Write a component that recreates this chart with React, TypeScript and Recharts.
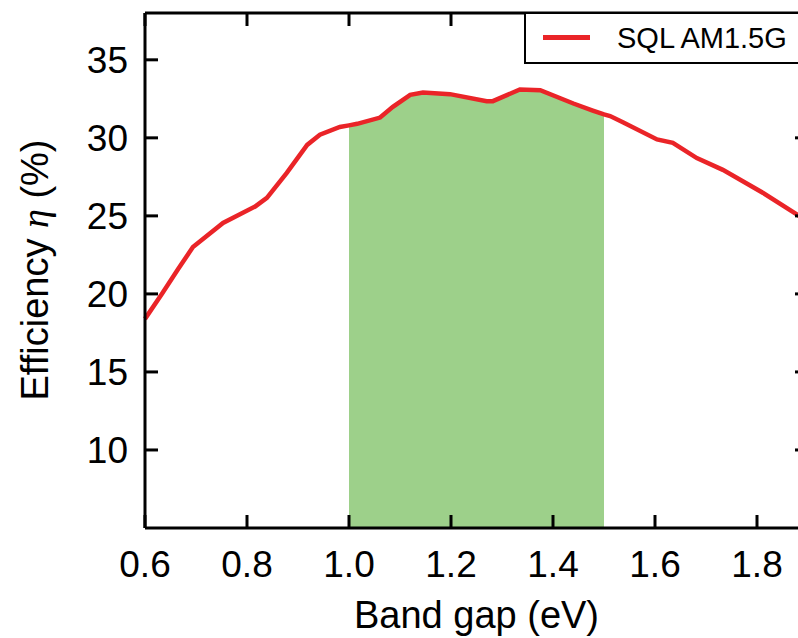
import React from "react";
import {
  ComposedChart,
  Line,
  Area,
  XAxis,
  YAxis,
} from "recharts";

const bandGap = [
  0.6, 0.633, 0.665, 0.694, 0.753, 0.816, 0.839, 0.878, 0.918, 0.943, 0.982, 1.0,
  1.016, 1.061, 1.086, 1.12, 1.145, 1.198, 1.27, 1.282, 1.335, 1.375, 1.44, 1.478,
  1.5, 1.512, 1.537, 1.604, 1.635, 1.682, 1.733, 1.773, 1.812, 1.878, 1.9,
];
const efficiency = [
  18.4, 20.0, 21.6, 23.0, 24.55, 25.6, 26.15, 27.76, 29.55, 30.2, 30.7, 30.8,
  30.9, 31.3, 31.99, 32.76, 32.9, 32.8, 32.35, 32.35, 33.1, 33.05, 32.2, 31.75,
  31.5, 31.4, 31.0, 29.9, 29.68, 28.7, 27.95, 27.2, 26.47, 25.1, 24.6,
];
const optimalRange = [1.0, 1.5];
const xTicks = [0.6, 0.8, 1.0, 1.2, 1.4, 1.6, 1.8];
const yTicks = [10, 15, 20, 25, 30, 35];
const seriesName = "SQL AM1.5G";

const data = bandGap.map((eg, i) => ({
  eg,
  eff: efficiency[i],
  band: eg >= optimalRange[0] && eg <= optimalRange[1] ? efficiency[i] : null,
}));

const FONT = '"Liberation Sans", Arial, sans-serif';
const TICK = 13;
const X_GAP = 22;
const Y_GAP = 17;

// inward tick marks drawn next to the labels
const BottomTick = (p: any) => (
  <g>
    <line x1={p.x} x2={p.x} y1={p.y - X_GAP} y2={p.y - X_GAP - TICK} stroke="#000" strokeWidth={3} />
    <text x={p.x} y={p.y} dy="0.72em" textAnchor="middle" fontSize={37} fontFamily={FONT} fill="#000">
      {Number(p.payload.value).toFixed(1)}
    </text>
  </g>
);

const LeftTick = (p: any) => (
  <g>
    <line x1={p.x + Y_GAP} x2={p.x + Y_GAP + TICK} y1={p.y} y2={p.y} stroke="#000" strokeWidth={3} />
    <text x={p.x} y={p.y} dy="0.36em" textAnchor="end" fontSize={37} fontFamily={FONT} fill="#000">
      {p.payload.value}
    </text>
  </g>
);

const TopTick = (p: any) => (
  <line x1={p.x} x2={p.x} y1={p.y} y2={p.y + TICK} stroke="#000" strokeWidth={3} />
);

const RightTick = (p: any) => (
  <line x1={p.x} x2={p.x - TICK} y1={p.y} y2={p.y} stroke="#000" strokeWidth={3} />
);

const YTitle = () => (
  <text
    x={48}
    y={270}
    transform="rotate(-90 48 270)"
    textAnchor="middle"
    fontSize={38}
    fontFamily={FONT}
    fill="#000"
  >
    Efficiency{" "}
    <tspan fontStyle="italic" fontFamily='"Liberation Serif", serif'>
      η
    </tspan>{" "}
    (%)
  </text>
);

export default function App() {
  return (
    <div
      style={{
        position: "absolute",
        left: 0,
        top: 0,
        width: 798,
        height: 638,
        overflow: "hidden",
        background: "#fff",
      }}
    >
      <ComposedChart
        width={812}
        height={638}
        data={data}
        margin={{ top: 12, right: 3, left: 0, bottom: 0 }}
      >
        <XAxis
          dataKey="eg"
          type="number"
          domain={[0.6, 1.9]}
          ticks={xTicks}
          height={110}
          tickSize={0}
          tickLine={false}
          tickMargin={X_GAP}
          tick={<BottomTick />}
          stroke="#000"
          strokeWidth={3}
          label={{
            value: "Band gap (eV)",
            position: "insideBottom",
            offset: 10,
            fontSize: 38,
            fill: "#000",
            fontFamily: FONT,
          }}
        />
        <XAxis
          xAxisId="top"
          orientation="top"
          dataKey="eg"
          type="number"
          domain={[0.6, 1.9]}
          ticks={xTicks}
          height={1}
          tickSize={0}
          tickLine={false}
          tickMargin={0}
          tick={<TopTick />}
          stroke="#000"
          strokeWidth={3}
        />
        <YAxis
          type="number"
          domain={[5, 38]}
          ticks={yTicks}
          width={145}
          tickSize={0}
          tickLine={false}
          tickMargin={Y_GAP}
          tick={<LeftTick />}
          stroke="#000"
          strokeWidth={3}
          label={{ content: () => <YTitle /> }}
        />
        <YAxis
          yAxisId="right"
          orientation="right"
          type="number"
          domain={[5, 38]}
          ticks={yTicks}
          width={1}
          tickSize={0}
          tickLine={false}
          tickMargin={0}
          tick={<RightTick />}
          stroke="#000"
          strokeWidth={3}
        />
        <Area
          type="linear"
          dataKey="band"
          fill="#9dd08a"
          fillOpacity={1}
          stroke="none"
          isAnimationActive={false}
          connectNulls={false}
        />
        <Line
          type="linear"
          dataKey="eff"
          name={seriesName}
          stroke="#ea2428"
          strokeWidth={4.5}
          dot={false}
          isAnimationActive={false}
        />
        {/* invisible copy so the top/right frame axes get drawn */}
        <Line
          xAxisId="top"
          yAxisId="right"
          type="linear"
          dataKey="eff"
          stroke="none"
          dot={false}
          legendType="none"
          isAnimationActive={false}
        />
      </ComposedChart>
      <div
        style={{
          position: "absolute",
          left: 524,
          top: 12,
          width: 300,
          height: 48,
          border: "2px solid #000",
          background: "#fff",
          fontFamily: FONT,
          fontSize: 29,
          color: "#000",
        }}
      >
        <div
          style={{
            position: "absolute",
            left: 17,
            top: 21,
            width: 47,
            height: 5,
            background: "#ea2428",
          }}
        />
        <div style={{ position: "absolute", left: 91, top: 7, lineHeight: "34px", whiteSpace: "nowrap" }}>
          {seriesName}
        </div>
      </div>
    </div>
  );
}
